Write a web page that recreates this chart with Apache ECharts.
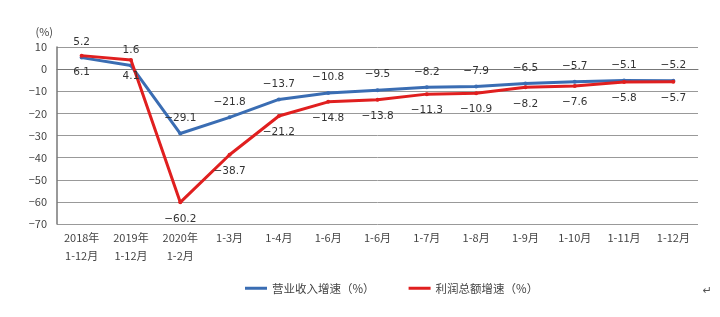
<!DOCTYPE html>
<html>
<head>
<meta charset="utf-8">
<script src="https://cdn.jsdelivr.net/npm/echarts@6/dist/echarts.min.js"></script>
<style>
  html, body { margin: 0; padding: 0; background: #fff; }
  #chart { width: 720px; height: 317px; }
</style>
</head>
<body>
<div id="chart"></div>
<script>
// 月份（原图 1-5月 处标为 1-6月，照原样）
const categories = ['2018年\n1-12月', '2019年\n1-12月', '2020年\n1-2月', '1-3月', '1-4月', '1-6月',
    '1-6月', '1-7月', '1-8月', '1-9月', '1-10月', '1-11月', '1-12月'];
const revenueGrowth = [5.2, 1.6, -29.1, -21.8, -13.7, -10.8, -9.5, -8.2, -7.9, -6.5, -5.7, -5.1, -5.2];
const profitGrowth = [6.1, 4.1, -60.2, -38.7, -21.2, -14.8, -13.8, -11.3, -10.9, -8.2, -7.6, -5.8, -5.7];
const yTicks = { min: -70, max: 10, interval: 10 };

const font = '"Noto Sans CJK SC", "Noto Sans", sans-serif';
const fmt = (p) => (p.value < 0 ? '\u2212' + Math.abs(p.value).toFixed(1) : p.value.toFixed(1));

const chart = echarts.init(document.getElementById('chart'));
chart.setOption({
    backgroundColor: '#fff',
    color: ['#3a6db3', '#e01f1f'],
    grid: { left: 57, right: 22, top: 47, bottom: 93 },
    legend: {
        bottom: 18,
        left: 240,
        itemWidth: 22,
        itemHeight: 3,
        itemGap: 34,
        icon: 'rect',
        textStyle: { fontFamily: font, fontSize: 11.5, color: '#444' },
        data: ['营业收入增速（%）', '利润总额增速（%）']
    },
    xAxis: {
        type: 'category',
        data: categories,
        boundaryGap: true,
        axisLine: { lineStyle: { color: '#777', width: 1 } },
        axisTick: { show: false },
        axisLabel: { fontFamily: font, fontSize: 11, color: '#444', lineHeight: 18, margin: 5, interval: 0 }
    },
    yAxis: {
        type: 'value',
        min: yTicks.min,
        max: yTicks.max,
        interval: yTicks.interval,
        name: '(%)',
        nameLocation: 'end',
        nameGap: 10,
        nameTextStyle: { fontFamily: font, fontSize: 11, color: '#444', align: 'right', padding: [0, 4, 0, 0] },
        axisLine: { show: true, lineStyle: { color: '#777', width: 1.5 } },
        axisTick: { show: false },
        axisLabel: {
            fontFamily: font, fontSize: 11, color: '#444', margin: 10,
            formatter: (v) => (v < 0 ? '\u2212' + Math.abs(v) : String(v))
        },
        splitLine: { lineStyle: { color: '#999', width: 1 } }
    },
    series: [
        {
            name: '营业收入增速（%）',
            type: 'line',
            data: revenueGrowth,
            symbol: 'circle',
            symbolSize: 4,
            lineStyle: { width: 3 },
            z: 2,
            label: {
                show: true, position: 'top', distance: 8, formatter: fmt,
                fontFamily: '"DejaVu Sans", sans-serif', fontSize: 10.5, color: '#333'
            }
        },
        {
            name: '利润总额增速（%）',
            type: 'line',
            data: profitGrowth,
            symbol: 'circle',
            symbolSize: 4,
            lineStyle: { width: 3 },
            z: 3,
            label: {
                show: true, position: 'bottom', distance: 9, formatter: fmt,
                fontFamily: '"DejaVu Sans", sans-serif', fontSize: 10.5, color: '#333'
            }
        }
    ],
    graphic: [{
        type: 'text', right: 8, bottom: 20,
        style: { text: '\u21b5', fontSize: 11, fill: '#555', fontFamily: '"DejaVu Sans", sans-serif' }
    }]
});
</script>
</body>
</html>
